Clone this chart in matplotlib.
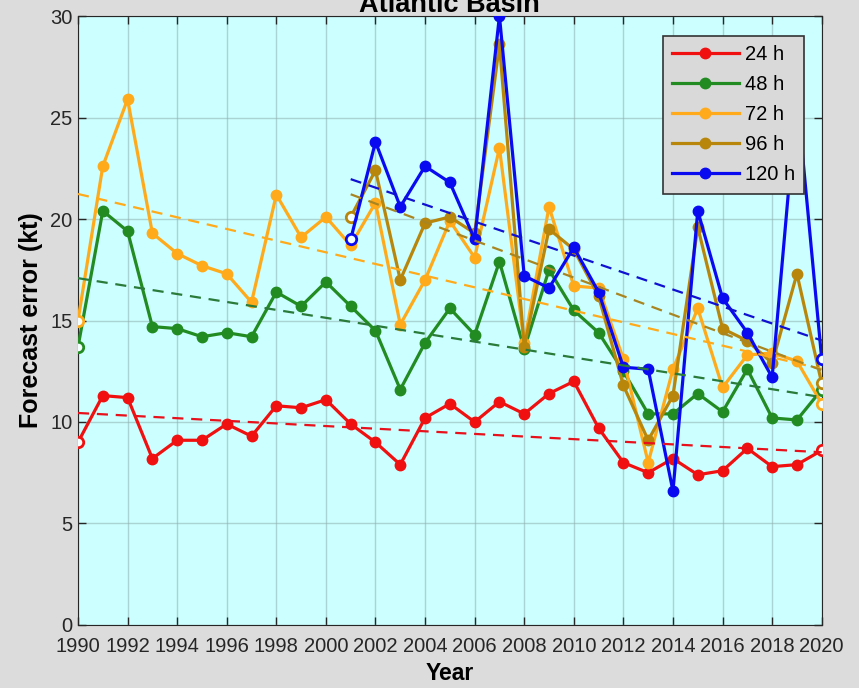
import numpy as np
import matplotlib
matplotlib.use("Agg")
import matplotlib.pyplot as plt

plt.rcParams["font.family"] = ["Liberation Sans", "DejaVu Sans"]

# Annual mean intensity forecast errors (kt), Atlantic basin
years = np.arange(1990, 2021)
years_long = np.arange(2001, 2021)

err_24 = [9.0, 11.3, 11.2, 8.2, 9.1, 9.1, 9.9, 9.3, 10.8, 10.7, 11.1,
          9.9, 9.0, 7.9, 10.2, 10.9, 10.0, 11.0, 10.4, 11.4, 12.0,
          9.7, 8.0, 7.5, 8.2, 7.4, 7.6, 8.7, 7.8, 7.9, 8.6]
err_48 = [13.7, 20.4, 19.4, 14.7, 14.6, 14.2, 14.4, 14.2, 16.4, 15.7, 16.9,
          15.7, 14.5, 11.6, 13.9, 15.6, 14.3, 17.9, 13.6, 17.5, 15.5,
          14.4, 12.5, 10.4, 10.4, 11.4, 10.5, 12.6, 10.2, 10.1, 11.6]
err_72 = [15.0, 22.6, 25.9, 19.3, 18.3, 17.7, 17.3, 15.9, 21.2, 19.1, 20.1,
          18.7, 20.8, 14.8, 17.0, 19.9, 18.1, 23.5, 13.9, 20.6, 16.7,
          16.6, 13.1, 8.0, 12.6, 15.6, 11.7, 13.3, 13.4, 13.0, 10.9]
err_96 = [20.1, 22.4, 17.0, 19.8, 20.1, 19.3, 28.6, 13.7, 19.5, 18.5,
          16.2, 11.8, 9.1, 11.3, 19.6, 14.6, 14.0, 12.9, 17.3, 11.9]
err_120 = [19.0, 23.8, 20.6, 22.6, 21.8, 19.0, 30.0, 17.2, 16.6, 18.6,
           16.4, 12.7, 12.6, 6.6, 20.4, 16.1, 14.4, 12.2, 26.1, 13.1]

series = [
    ("24 h", years, err_24, "#f01010", "#e8101a"),
    ("48 h", years, err_48, "#228b22", "#2a7a3a"),
    ("72 h", years, err_72, "#ffaa1a", "#ffaa1a"),
    ("96 h", years_long, err_96, "#b8860b", "#a88520"),
    ("120 h", years_long, err_120, "#0a0af0", "#1010d0"),
]

fig = plt.figure(figsize=(8.59, 6.88), dpi=100, facecolor="#dcdcdc")
ax = fig.add_axes([0.0908, 0.0916, 0.8658, 0.8851])
ax.set_facecolor("#ccffff")

for label, x, y, color, trend_color in series:
    x = np.asarray(x)
    y = np.asarray(y)
    ax.plot(x, y, "-o", color=color, lw=2.3, ms=7.5, markevery=slice(1, -1),
            label=label, zorder=3)
    # open markers on the first and last year
    ax.plot(x[[0, -1]], y[[0, -1]], "o", ms=7.5, mfc="#f4ffff", mec=color,
            mew=2.0, zorder=3)

for label, x, y, color, trend_color in series:
    coef = np.polyfit(x, y, 1)
    ax.plot(x, np.polyval(coef, x), "--", color=trend_color, lw=1.6,
            dashes=(5, 3.5), zorder=4)

ax.set_xlim(1990, 2020)
ax.set_ylim(0, 30)
ax.set_xticks(np.arange(1990, 2021, 2))
ax.set_yticks(np.arange(0, 31, 5))
ax.tick_params(direction="in", length=6, width=1, top=True, right=True,
               labelsize=14.5, colors="#262626", pad=4)
ax.tick_params(axis="x", pad=9)
ax.grid(True, color="#8fb0b0", alpha=0.55, lw=1)
for spine in ax.spines.values():
    spine.set_color("#262626")

ax.set_xlabel("Year", fontsize=16.5, fontweight="bold", labelpad=4)
ax.set_ylabel("Forecast error (kt)", fontsize=18, fontweight="bold", labelpad=5)
# title placed by hand so the top ticks don't push it upward
ax.text(0.5, 1.007, "Atlantic Basin", transform=ax.transAxes, ha="center",
        va="baseline", fontsize=19.5, fontweight="bold")

leg = ax.legend(loc="upper right", bbox_to_anchor=(0.976, 0.967),
                borderaxespad=0, fontsize=14.5, handlelength=3.3,
                labelspacing=0.55, borderpad=0.45, handletextpad=0.3,
                fancybox=False, framealpha=1, edgecolor="#333333",
                facecolor="#d9d9d9")
leg.get_frame().set_linewidth(1.2)

fig.savefig("out.png", dpi=100, facecolor=fig.get_facecolor())
